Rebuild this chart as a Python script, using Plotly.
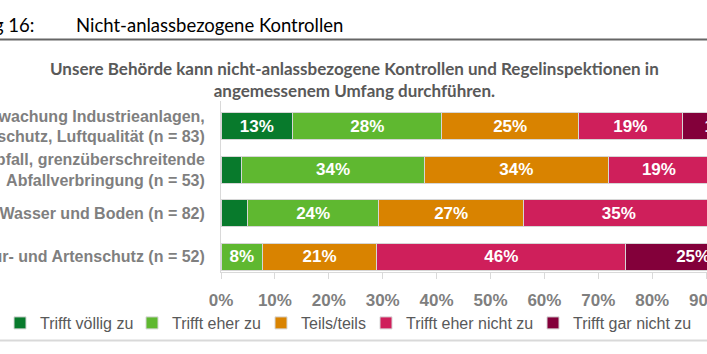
import plotly.graph_objects as go

# ---- data (percent of respondents) ----
categories = [
    "Überwachung Industrieanlagen,<br>Immissionsschutz, Luftqualität (n = 83)",
    "Abfall, grenzüberschreitende<br>Abfallverbringung (n = 53)",
    "Wasser und Boden (n = 82)",
    "Natur- und Artenschutz (n = 52)",
]
series_names = ["Trifft völlig zu", "Trifft eher zu", "Teils/teils",
                "Trifft eher nicht zu", "Trifft gar nicht zu"]
trifft_voellig_zu = [13.3, 3.8, 4.9, 0.0]
trifft_eher_zu = [27.7, 34.0, 24.4, 7.7]
teils_teils = [25.3, 34.0, 26.8, 21.2]
trifft_eher_nicht_zu = [19.3, 18.9, 35.4, 46.2]
trifft_gar_nicht_zu = [14.5, 9.4, 8.5, 25.0]
x_ticks = [0, 10, 20, 30, 40, 50, 60, 70, 80, 90]
x_tick_labels = ["0%", "10%", "20%", "30%", "40%", "50%", "60%", "70%", "80%", "90%"]

series_values = [trifft_voellig_zu, trifft_eher_zu, teils_teils,
                 trifft_eher_nicht_zu, trifft_gar_nicht_zu]
colors = ["#087a2c", "#5fb830", "#d98300", "#cf1f5b", "#83003a"]

W, H = 707, 354
L, R, T, B = 221, 0, 101, 82
pw, ph = W - L - R, H - T - B

def px(x):
    return (x - L) / pw

def py(y):
    return (H - B - y) / ph

legend_ids = ["legend", "legend2", "legend3", "legend4", "legend5"]
legend_text_x = [34, 168, 297, 402, 569]  # where each legend entry's text starts (px)

fig = go.Figure()
for name, vals, col, lid in zip(series_names, series_values, colors, legend_ids):
    fig.add_trace(go.Bar(
        y=categories, x=vals, name=name, orientation="h", legend=lid,
        marker=dict(color=col, line=dict(color="#d6d6d6", width=1)),
        texttemplate="%{x:.0f}%", textposition="inside",
        insidetextanchor="middle",
        textfont=dict(color="white", size=17, family="Liberation Sans, Arial", weight="bold"),
        hoverinfo="skip",
    ))

unit = 43.5
r_top = -(126.3 - T) / unit
r_bot = r_top + ph / unit

legend_font = dict(size=16, color="#595959", family="Liberation Sans, Arial")
legends = {}
for lid, tx in zip(legend_ids, legend_text_x):
    legends[lid] = dict(orientation="h", xref="container", yref="container",
                        x=(tx - 36) / W, xanchor="left", y=1 - 323 / H,
                        yanchor="middle", font=legend_font,
                        bgcolor="rgba(0,0,0,0)", borderwidth=0)

fig.update_layout(
    width=W, height=H, barmode="stack", bargap=0.38,
    margin=dict(l=L, r=R, t=T, b=B, autoexpand=False),
    paper_bgcolor="white", plot_bgcolor="white",
    uniformtext=dict(mode="hide", minsize=17),
    font=dict(family="Liberation Sans, Arial", color="#7f7f7f"),
    xaxis=dict(range=[0, pw / 5.39], tickvals=x_ticks, ticktext=x_tick_labels,
               showgrid=False, zeroline=False, showline=True,
               linecolor="#d9d9d9", linewidth=1, ticks="outside",
               ticklen=6, tickcolor="#d9d9d9", tickwidth=1,
               ticklabelstandoff=7,
               ticklabeloverflow="allow", automargin=False,
               tickfont=dict(size=17, color="#7f7f7f", weight="bold",
                             family="Liberation Sans, Arial")),
    yaxis=dict(categoryorder="array", categoryarray=categories,
               range=[r_bot, r_top], showgrid=False, zeroline=False,
               showline=True, linecolor="#d9d9d9", linewidth=1, ticks="",
               ticklabelstandoff=12, ticklabeloverflow="allow", automargin=False,
               tickfont=dict(size=16, color="#7f7f7f", weight="bold",
                             family="Liberation Sans, Arial")),
    showlegend=True,
    **legends,
)

fig.add_annotation(text="Abbildung 16:", xref="paper", yref="paper",
                   x=px(36), y=py(25), xanchor="right", yanchor="middle",
                   showarrow=False,
                   font=dict(family="Lato, sans-serif", size=18.5, color="black"))
fig.add_annotation(text="Nicht-anlassbezogene Kontrollen", xref="paper", yref="paper",
                   x=px(74), y=py(25), xanchor="left", yanchor="middle",
                   showarrow=False,
                   font=dict(family="Lato, sans-serif", size=18.5, color="black"))
fig.add_annotation(text="Unsere Behörde kann nicht-anlassbezogene Kontrollen und Regelinspektionen in<br>angemessenem Umfang durchführen.",
                   xref="paper", yref="paper", x=px(354), y=py(79.5),
                   xanchor="center", yanchor="middle", showarrow=False, align="center",
                   font=dict(family="Lato, sans-serif", size=17,
                             color="#595959", weight="bold"))
fig.add_shape(type="line", xref="paper", yref="paper", x0=px(-5), x1=px(712),
              y0=py(39.5), y1=py(39.5), line=dict(color="#666666", width=2))
fig.add_shape(type="line", xref="paper", yref="paper", x0=px(-5), x1=px(712),
              y0=py(340.5), y1=py(340.5), line=dict(color="#d9d9d9", width=2))

fig.write_html("out.html")
